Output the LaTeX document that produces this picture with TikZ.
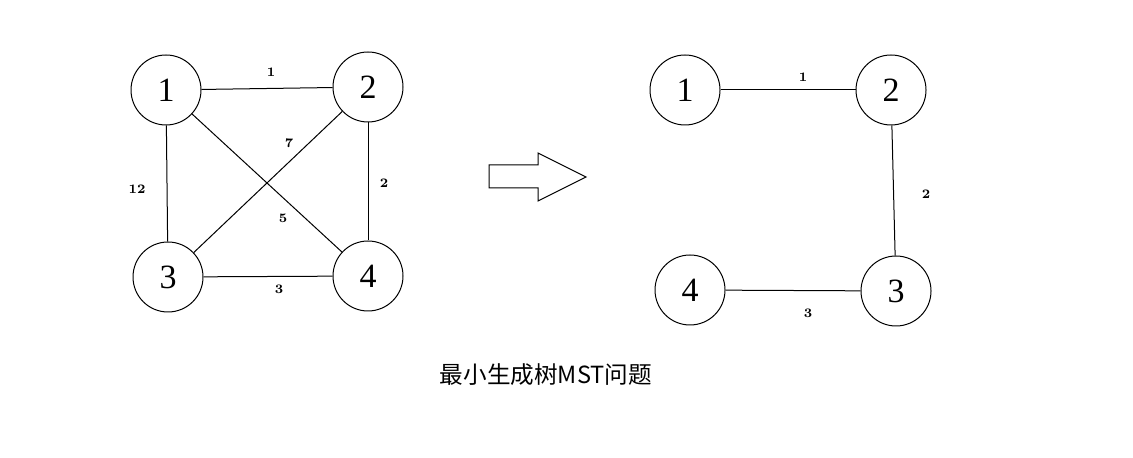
\documentclass[tikz,border=0pt]{standalone}
\usepackage{fontspec}
\newfontfamily\cjk{Noto Sans CJK SC}
\newfontfamily\digitfont{Liberation Serif}
\begin{document}
\begin{tikzpicture}[x=0.5pt, y=-0.5pt, line width=0.5pt,
  vertex/.style={draw, circle, minimum size=35pt, inner sep=0pt, font=\digitfont\fontsize{17}{20}\selectfont},
  weight/.style={font=\bfseries\fontsize{6.5}{8}\selectfont, inner sep=1pt}]
  \useasboundingbox (0,0) rectangle (1133,458);

  % left: the whole graph
  \node[vertex] (a1) at (166,90) {1};
  \node[vertex] (a2) at (368,87) {2};
  \node[vertex] (a3) at (168,277) {3};
  \node[vertex] (a4) at (368,276) {4};

  \draw (a1) -- (a2);
  \draw (a1) -- (a3);
  \draw (a1) -- (a4);
  \draw (a2) -- (a3);
  \draw (a2) -- (a4);
  \draw (a3) -- (a4);

  \node[weight] (w12) at (271,72) {1};
  \node[weight] (w13) at (137,189) {12};
  \node[weight] (w14) at (283,218) {5};
  \node[weight] (w23) at (289,143) {7};
  \node[weight] (w24) at (384,183) {2};
  \node[weight] (w34) at (279,289) {3};

  % arrow
  \draw (489,165) -- (538,165) -- (538,153) -- (586,177) -- (538,201)
    -- (538,188) -- (489,188) -- cycle;

  % right: the spanning tree
  \node[vertex] (b1) at (685,90) {1};
  \node[vertex] (b2) at (891,90) {2};
  \node[vertex] (b4) at (690,290) {4};
  \node[vertex] (b3) at (896,291) {3};

  \draw (b1) -- (b2);
  \draw (b2) -- (b3);
  \draw (b4) -- (b3);

  \node[weight] (v12) at (803,77) {1};
  \node[weight] (v23) at (926,194) {2};
  \node[weight] (v34) at (808,313) {3};

  \node[font=\cjk\fontsize{11.8}{14}\selectfont] (title) at (546,375) {最小生成树MST问题};
\end{tikzpicture}
\end{document}
